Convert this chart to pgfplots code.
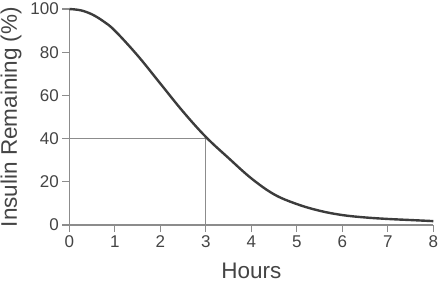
\documentclass[border=0pt]{standalone}
\usepackage{fontspec}
\setmainfont{Liberation Sans}
\usepackage{pgfplots}
\pgfplotsset{compat=1.18}
\definecolor{curve}{HTML}{3C3C3C}
\definecolor{axgray}{HTML}{8C8C8C}
\definecolor{txt}{HTML}{444444}
\begin{document}
\begin{tikzpicture}
\begin{axis}[
  scale only axis,
  width=364pt, height=216pt,
  xmin=0, xmax=8, ymin=0, ymax=100,
  axis lines*=left,
  axis line style={axgray, line width=1.1pt},
  xtick={0,1,...,8}, ytick={0,20,...,100},
  tick align=outside,
  major tick length=7pt,
  tick style={axgray, line width=1.1pt},
  /pgf/number format/assume math mode=true,
  ticklabel style={font=\fontsize{17}{17}\selectfont, text=txt},
  xlabel={Hours}, ylabel={Insulin Remaining (\%)},
  label style={font=\fontsize{22.5}{22.5}\selectfont, text=txt},
  xlabel style={at={(axis description cs:0.5,-0.212)}, anchor=center},
  ylabel style={at={(axis description cs:-0.160,0.5)}, anchor=center, rotate=0},
  clip=false,
]
\addplot[axgray, line width=1.1pt] coordinates {(0,40) (3,40) (3,0)};
\addplot[curve, line width=2.4pt, smooth, tension=0.6] coordinates {
(0,100) (0.25,99.4) (0.5,97.5) (0.75,94.3) (1,90) (1.5,78.5) (2,65.5) (2.5,52.5) (3,40.8)
(3.5,31) (4,21.6) (4.5,14.2) (5,9.7) (5.5,6.6) (6,4.6) (6.5,3.5)
(7,2.8) (7.5,2.3) (8,1.8)};
\end{axis}
\pgfresetboundingbox
\path[use as bounding box] ([shift={(-69.3pt,-57pt)}]current axis.south west) rectangle ++(439pt,282pt);
\end{tikzpicture}
\end{document}
